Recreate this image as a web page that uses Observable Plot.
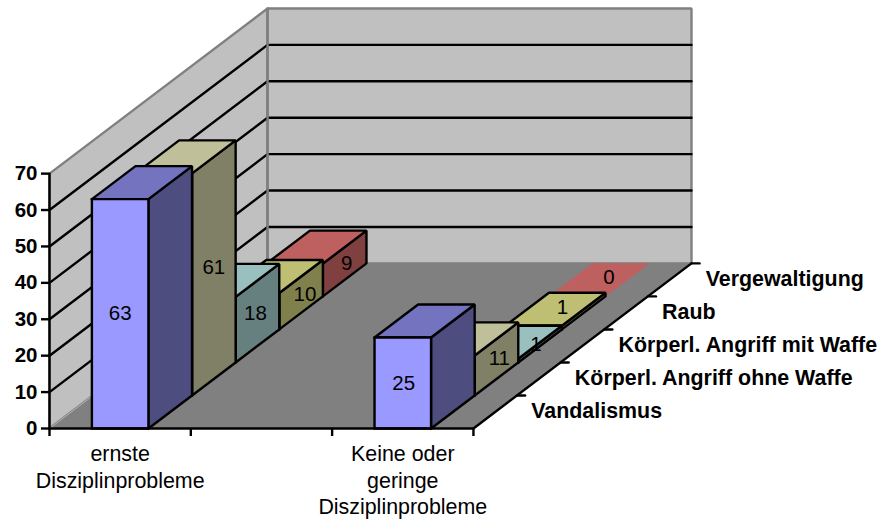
<!DOCTYPE html>
<html><head><meta charset="utf-8">
<script src="https://cdn.jsdelivr.net/npm/d3@7"></script>
<script src="https://cdn.jsdelivr.net/npm/@observablehq/plot@0.6"></script>
<style>html,body{margin:0;padding:0;background:#fff}svg{display:block}</style>
</head><body><div id="chart"></div>
<script>
// Data
const categories = ["ernste\nDisziplinprobleme", "", "Keine oder\ngeringe\nDisziplinprobleme"];
const seriesNames = ["Vandalismus", "Körperl. Angriff ohne Waffe", "Körperl. Angriff mit Waffe", "Raub", "Vergewaltigung"];
const vandalismus = [63, null, 25];
const ohneWaffe = [61, null, 11];
const mitWaffe = [18, null, 1];
const raub = [10, null, 1];
const vergewaltigung = [9, null, 0];
const seriesValues = [vandalismus, ohneWaffe, mitWaffe, raub, vergewaltigung];
const yTicks = [0, 10, 20, 30, 40, 50, 60, 70];

// Colours: front, top, side of each series
const frontColors = ["#9999ff", "#ffffcc", "#ccffff", "#ffff99", "#ff8080"];
const topColors = ["#7373bf", "#bfbf99", "#99bfbf", "#bfbf73", "#bf6060"];
const sideColors = ["#4d4d80", "#808066", "#668080", "#80804d", "#804040"];

// Oblique 3D projection, in data units (category cells, depth slots, values)
const uPerSlot = 0.3086, zPerSlot = 9.07;
const uMax = 3, vMax = 5, zMax = 70;
const barStart = 0.3, barWidth = 0.4;
const LW = 2.4;
const P = (u, v, z) => ({X: u + v * uPerSlot, Y: z + v * zPerSlot});
const poly = (pts, opts) => Plot.line([...pts, pts[0]].map(p => P(...p)), {
  x: "X", y: "Y", curve: "linear", strokeLinejoin: "miter", strokeLinecap: "square", ...opts
});
const seg = (a, b, stroke = "#000", strokeWidth = LW) => Plot.line([P(...a), P(...b)], {x: "X", y: "Y", stroke, strokeWidth});

const FONT = "Liberation Sans, Arial, sans-serif";
const FS = 21.4, FS_NUM = 20.5;

const marks = [];
// Walls and floor
marks.push(poly([[0,0,0],[0,vMax,0],[0,vMax,zMax],[0,0,zMax]], {fill:"#c0c0c0", stroke:"#808080", strokeWidth:2.4}));
marks.push(poly([[0,vMax,0],[uMax,vMax,0],[uMax,vMax,zMax],[0,vMax,zMax]], {fill:"#c0c0c0", stroke:"#808080", strokeWidth:2.4}));
marks.push(poly([[0,0,0],[uMax,0,0],[uMax,vMax,0],[0,vMax,0]], {fill:"#808080", stroke:"#808080", strokeWidth:1}));
marks.push(seg([0,0,0],[0,vMax,0],"#b4b4b4",1));
// Grid lines
for (const t of yTicks.slice(1, -1)) {
  marks.push(seg([0,0,t],[0,vMax,t]));
  marks.push(seg([0.012,vMax,t],[uMax,vMax,t]));
}
// Re-draw the wall corner above the grid
marks.push(seg([0,vMax,0],[0,vMax,zMax],"#808080",2.4));
// Bars, back to front
seriesValues.map((vals, s) => s).reverse().forEach(s => {
  seriesValues[s].forEach((val, c) => {
    if (val == null) return;
    const u0 = c + barStart, u1 = u0 + barWidth, v0 = s, v1 = s + 1;
    if (val === 0) {
      marks.push(poly([[u0,v0,val],[u1,v0,val],[u1,v1,val],[u0,v1,val]], {fill: topColors[s], stroke: topColors[s], strokeWidth: 0.5}));
      return;
    }
    const style = {stroke:"#000", strokeWidth:LW};
    marks.push(poly([[u1,v0,0],[u1,v1,0],[u1,v1,val],[u1,v0,val]], {fill: sideColors[s], ...style}));
    marks.push(poly([[u0,v0,val],[u1,v0,val],[u1,v1,val],[u0,v1,val]], {fill: topColors[s], ...style}));
    marks.push(poly([[u0,v0,0],[u1,v0,0],[u1,v0,val],[u0,v0,val]], {fill: frontColors[s], ...style}));
  });
});
// Axis lines and depth ticks
marks.push(seg([0,0,0],[0,0,zMax]));
marks.push(seg([0,0,0],[uMax,0,0]));
marks.push(seg([uMax,0,0],[uMax,vMax,0]));
marks.push(Plot.axisY({ticks: yTicks, tickSize: 8, tickPadding: 4, label: null, fontSize: FS_NUM, fontWeight: "bold", strokeWidth: LW, fontFamily: FONT, anchor: "left"}));
marks.push(Plot.axisX({ticks: d3.range(0, uMax + 1), tickSize: 8, tickFormat: () => "", label: null, strokeWidth: LW, anchor: "bottom"}));
for (let v = 1; v <= vMax; v++) marks.push(seg([uMax,v,0],[uMax + 0.057,v,0]));
// Category labels
marks.push(Plot.text(categories.map((t, i) => ({t, ...P(i + 0.5, 0, 0)})), {
  x: "X", y: "Y", text: "t", dy: 13.5, lineAnchor: "top", lineHeight: 1.25, fontSize: FS, fontFamily: FONT, fill: "#000"
}));
// Series labels
marks.push(Plot.text(seriesNames.map((t, i) => ({t, ...P(uMax, i + 0.5, 0)})), {
  x: "X", y: "Y", text: "t", dx: 36, dy: -1, textAnchor: "start", fontSize: FS, fontWeight: "bold", fontFamily: FONT, fill: "#000"
}));
// Value labels: the face they sit on, and a nudge in cells along the floor
const labelFaces = [
  ["front", "front"],
  ["side", "side"],
  ["side", "topNudge"],
  ["side", "top"],
  ["side", "topEnd"]
];
const labelNudges = [[0, 0.007], [0, 0.02], [-0.014, 0], [0.028, 0], [0.014, 0]];
const valueLabels = [];
seriesValues.forEach((vals, s) => vals.forEach((val, c) => {
  if (val == null) return;
  const face = labelFaces[s][c === 0 ? 0 : 1];
  const n = labelNudges[s][c === 0 ? 0 : 1];
  const uc = c + barStart + barWidth / 2 + n, u1 = c + barStart + barWidth + n;
  const pos = face === "front" ? P(uc, s, val / 2)
    : face === "side" ? P(u1, s + 0.5, val / 2)
    : face === "topNudge" ? P(uc + 0.17, s + 0.5, val - 0.5)
    : face === "top" ? P(uc + 0.05, s + 0.5, val + 0.5)
    : P(uc + 0.07, s + 0.5, val + 0.7);
  valueLabels.push({t: String(val), ...pos});
}));
marks.push(Plot.text(valueLabels, {x: "X", y: "Y", text: "t", fontSize: FS_NUM, fontFamily: FONT, fill: "#000"}));

const chart = Plot.plot({
  width: 882, height: 519,
  marginLeft: 49, marginRight: 191, marginTop: 8, marginBottom: 91,
  x: {domain: [0, uMax + vMax * uPerSlot]},
  y: {domain: [0, zMax + vMax * zPerSlot]},
  style: {fontFamily: FONT, background: "#fff", overflow: "visible"},
  marks
});
document.getElementById("chart").append(chart);
</script></body></html>
